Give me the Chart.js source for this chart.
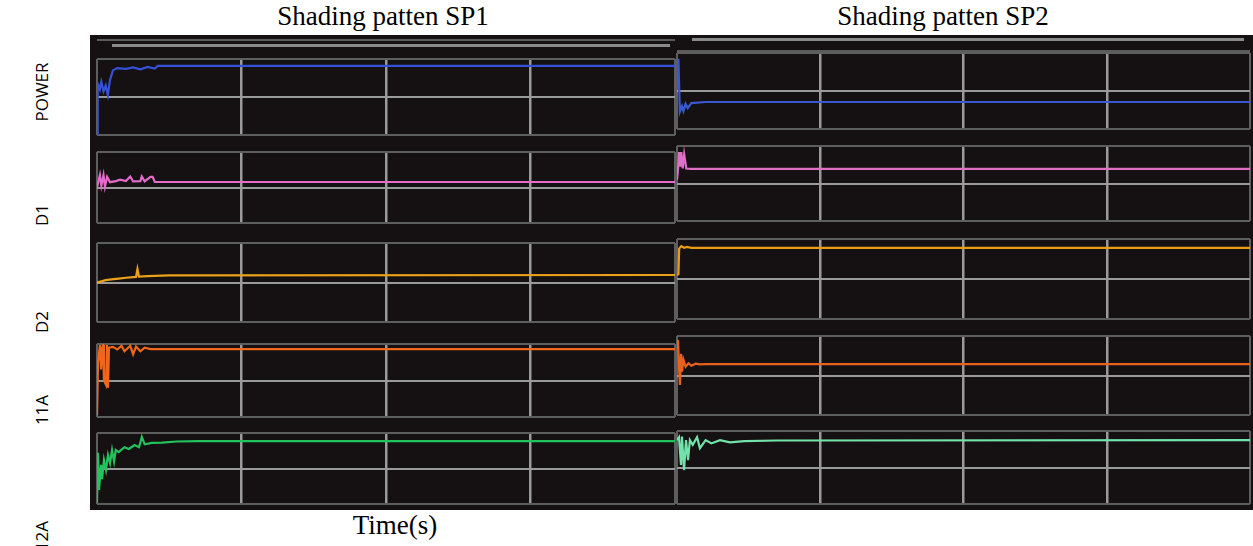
<!DOCTYPE html>
<html>
<head>
<meta charset="utf-8">
<script src="https://cdn.jsdelivr.net/npm/chart.js@4.4.0/dist/chart.umd.min.js"></script>
<style>
  body { margin: 0; background: #fff; width: 1253px; height: 546px; overflow: hidden; position: relative; }
  #scope { position: absolute; left: 90px; top: 35px; width: 1163px; height: 475px; background: #151011; }
  .panel { position: absolute; }
  .strip { position: absolute; height: 3px; background: #8a8a8a; }
  .frame { position: absolute; height: 2px; background: #5c5c5c; }
  .title { position: absolute; font-family: "Liberation Serif", "DejaVu Serif", serif; font-size: 27px; color: #000; white-space: nowrap; transform: translateX(-50%); }
  .side { position: absolute; font-family: "Open Sans", "Noto Sans", sans-serif; font-size: 17px; color: #000; white-space: nowrap; transform: translate(-50%, -50%) rotate(-90deg); }
</style>
</head>
<body>
<div id="scope"></div>
<div class="title" style="left:383px; top:1px;">Shading patten SP1</div>
<div class="title" style="left:943px; top:1px;">Shading patten SP2</div>
<div class="title" style="left:395px; top:510px;">Time(s)</div>
<div class="side" style="left:41px; top:92px;">POWER</div>
<div class="side" style="left:41px; top:215px;">D1</div>
<div class="side" style="left:41px; top:322px;">D2</div>
<div class="side" style="left:41px; top:410px;">11A</div>
<div class="side" style="left:41px; top:536px;">12A</div>

<script>
// time axis of each window (s) and grid
var timeMin = 0, timeMax = 4;

// SP1 traces (normalised, 0..2 per window)
var powerSP1T = [0, 0.005, 0.02, 0.03, 0.045, 0.06, 0.075, 0.09, 0.11, 0.14, 0.2, 0.25, 0.3, 0.35, 0.4, 0.42, 4];
var powerSP1V = [0, 1.35, 1.2, 1.4, 1.15, 1.3, 1.05, 1.45, 1.7, 1.76, 1.74, 1.78, 1.73, 1.79, 1.75, 1.82, 1.82];
var d1SP1T = [0, 0.02, 0.03, 0.045, 0.055, 0.07, 0.09, 0.13, 0.16, 0.2, 0.23, 0.25, 0.3, 0.31, 0.33, 0.37, 0.385, 0.4, 4];
var d1SP1V = [1.0, 1.35, 1.05, 1.35, 1.02, 1.3, 1.15, 1.18, 1.22, 1.18, 1.31, 1.17, 1.18, 1.31, 1.17, 1.3, 1.3, 1.16, 1.155];
var d2SP1T = [0, 0.03, 0.06, 0.1, 0.15, 0.2, 0.27, 0.28, 0.29, 0.35, 0.5, 4];
var d2SP1V = [1.0, 1.03, 1.06, 1.08, 1.1, 1.12, 1.14, 1.34, 1.15, 1.16, 1.18, 1.19];
var i1SP1T = [0, 0.007, 0.014, 0.021, 0.028, 0.035, 0.042, 0.048, 0.062, 0.069, 0.076, 0.083, 0.11, 0.14, 0.17, 0.19, 0.23, 0.25, 0.27, 0.3, 0.33, 0.37, 4];
var i1SP1V = [0.05, 1.48, 1.75, 1.97, 1.3, 1.85, 1.97, 1.0, 0.88, 1.97, 0.8, 1.9, 1.92, 1.85, 1.95, 1.8, 1.95, 1.72, 1.93, 1.8, 1.9, 1.86, 1.86];
var i2SP1T = [0, 0.007, 0.014, 0.028, 0.035, 0.048, 0.062, 0.076, 0.09, 0.104, 0.118, 0.13, 0.15, 0.19, 0.22, 0.26, 0.29, 0.3, 0.31, 0.33, 0.38, 0.45, 0.55, 0.7, 4];
var i2SP1V = [0.03, 1.44, 0.4, 1.1, 0.7, 1.24, 0.96, 1.38, 1.15, 1.52, 1.2, 1.52, 1.46, 1.6, 1.55, 1.66, 1.6, 1.72, 1.89, 1.68, 1.72, 1.73, 1.76, 1.77, 1.77];

// SP2 traces
var powerSP2T = [0, 0.01, 0.02, 0.035, 0.045, 0.06, 0.075, 0.1, 0.2, 4];
var powerSP2V = [1.82, 1.82, 0.45, 0.6, 0.47, 0.66, 0.55, 0.68, 0.71, 0.71];
var d1SP2T = [0, 0.01, 0.015, 0.025, 0.03, 0.04, 0.05, 0.065, 0.1, 4];
var d1SP2V = [1.1, 1.5, 1.84, 1.45, 1.84, 1.4, 1.78, 1.4, 1.39, 1.39];
var d2SP2T = [0, 0.01, 0.015, 0.03, 0.05, 0.07, 0.1, 4];
var d2SP2V = [1.1, 1.12, 1.76, 1.82, 1.78, 1.8, 1.78, 1.78];
var i1SP2T = [0, 0.007, 0.014, 0.021, 0.028, 0.035, 0.045, 0.06, 0.08, 0.1, 0.13, 0.16, 0.2, 4];
var i1SP2V = [1.67, 1.9, 1.2, 0.76, 1.55, 1.1, 1.4, 1.22, 1.31, 1.25, 1.3, 1.28, 1.29, 1.29];
var i2SP2T = [0, 0.014, 0.028, 0.035, 0.049, 0.063, 0.077, 0.09, 0.11, 0.14, 0.16, 0.2, 0.24, 0.3, 0.37, 0.47, 0.7, 4];
var i2SP2V = [1.75, 1.83, 1.07, 1.85, 0.93, 1.75, 1.2, 1.75, 1.62, 1.83, 1.53, 1.75, 1.66, 1.75, 1.69, 1.72, 1.74, 1.75];

function pts(t, v) {
  return t.map(function (x, i) { return { x: x, y: v[i] }; });
}

// panel boxes [left, top, width, height]
var panels = [
  { box: [97, 59, 578, 76], t: powerSP1T, v: powerSP1V, color: '#3552d6' },
  { box: [97, 152, 578, 71], t: d1SP1T, v: d1SP1V, color: '#e36ccb' },
  { box: [97, 243, 578, 79], t: d2SP1T, v: d2SP1V, color: '#e9a21a' },
  { box: [97, 344, 578, 73], t: i1SP1T, v: i1SP1V, color: '#f0671c' },
  { box: [97, 433, 578, 71], t: i2SP1T, v: i2SP1V, color: '#22c35c' },
  { box: [677, 53, 573, 76], t: powerSP2T, v: powerSP2V, color: '#3a58d2' },
  { box: [677, 146, 573, 75], t: d1SP2T, v: d1SP2V, color: '#e06fc6' },
  { box: [677, 239, 573, 80], t: d2SP2T, v: d2SP2V, color: '#e99c14' },
  { box: [677, 336, 573, 79], t: i1SP2T, v: i1SP2V, color: '#e8621e' },
  { box: [677, 431, 573, 73], t: i2SP2T, v: i2SP2V, color: '#72e3aa' }
];

var edgeCol = '#5e5e5e';
var innerCol = '#9a9a9a';
var pad = 2;

panels.forEach(function (p) {
  var div = document.createElement('div');
  div.className = 'panel';
  div.style.left = (p.box[0] - pad) + 'px';
  div.style.top = (p.box[1] - pad) + 'px';
  var cv = document.createElement('canvas');
  cv.width = p.box[2] + 2 * pad;
  cv.height = p.box[3] + 2 * pad;
  div.appendChild(cv);
  document.body.appendChild(div);

  new Chart(cv, {
    type: 'line',
    data: {
      datasets: [{
        data: pts(p.t, p.v),
        borderColor: p.color,
        borderWidth: 2.2,
        pointRadius: 0,
        tension: 0
      }]
    },
    options: {
      responsive: false,
      animation: false,
      layout: { padding: pad },
      plugins: { legend: { display: false }, tooltip: { enabled: false } },
      scales: {
        x: {
          type: 'linear', min: timeMin, max: timeMax,
          ticks: { display: false, stepSize: 1 },
          border: { display: false },
          grid: {
            drawTicks: false,
            lineWidth: function (c) { return (c.tick.value === timeMin || c.tick.value === timeMax) ? 2 : 2.5; },
            color: function (c) { return (c.tick.value === timeMin || c.tick.value === timeMax) ? edgeCol : innerCol; }
          }
        },
        y: {
          min: 0, max: 2,
          ticks: { display: false, stepSize: 1 },
          border: { display: false },
          grid: {
            drawTicks: false,
            lineWidth: 2,
            color: function (c) { return (c.tick.value === 0 || c.tick.value === 2) ? edgeCol : innerCol; }
          }
        }
      }
    }
  });
});

// scope toolbar strips above the first row
function bar(cls, l, t, w) {
  var d = document.createElement('div');
  d.className = cls;
  d.style.left = l + 'px'; d.style.top = t + 'px'; d.style.width = w + 'px';
  document.body.appendChild(d);
}
bar('strip', 112, 44, 558);
bar('frame', 97, 39, 578);
bar('strip', 692, 38, 552);
bar('frame', 677, 50, 573);
</script>
</body>
</html>
